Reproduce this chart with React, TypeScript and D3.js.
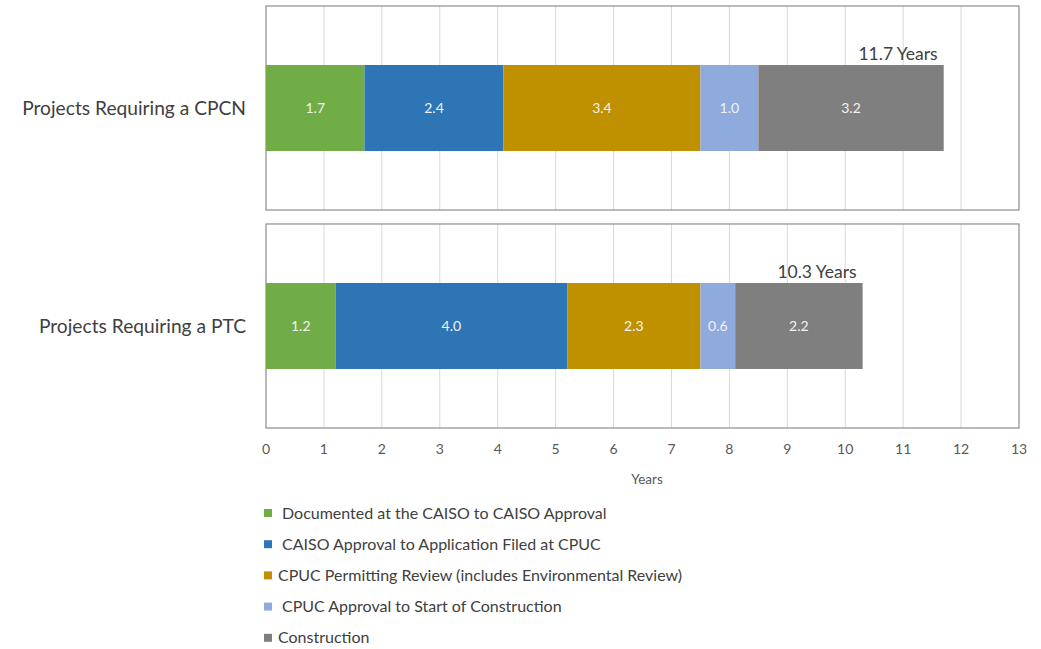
import React from 'react';
import * as d3 from 'd3';

const categories = ['Projects Requiring a CPCN', 'Projects Requiring a PTC'];
const seriesNames = [
  'Documented at the CAISO to CAISO Approval',
  'CAISO Approval to Application Filed at CPUC',
  'CPUC Permitting Review (includes Environmental Review)',
  'CPUC Approval to Start of Construction',
  'Construction',
];
const seriesKeys = ['documented', 'caiso', 'permitting', 'approval', 'construction'];
const documented = [1.7, 1.2];
const caiso = [2.4, 4.0];
const permitting = [3.4, 2.3];
const approval = [1.0, 0.6];
const construction = [3.2, 2.2];
const totals = ['11.7 Years', '10.3 Years'];
const xTicks = [0, 1, 2, 3, 4, 5, 6, 7, 8, 9, 10, 11, 12, 13];
const colors = ['#70AD47', '#2E75B6', '#BF9000', '#8FAADC', '#7F7F7F'];

const W = 1041;
const H = 649;
const FONT = 'Lato, "Open Sans", sans-serif';

export default function App() {
  const rows = categories.map((c, i) => ({
    category: c,
    documented: documented[i],
    caiso: caiso[i],
    permitting: permitting[i],
    approval: approval[i],
    construction: construction[i],
  }));
  const stacked = d3.stack<any>().keys(seriesKeys)(rows);

  const x = d3.scaleLinear().domain([0, 13]).range([266, 1019]);
  const panel = d3.scaleBand<string>().domain(categories).range([6, 428]).paddingInner(0.064);
  const barH = 86;

  return (
    <svg width={W} height={H} style={{ position: 'absolute', left: 0, top: 0, fontFamily: FONT }}>
      <rect width={W} height={H} fill="#fff" />
      {categories.map((c, i) => {
        const y0 = panel(c)!;
        const bh = panel.bandwidth();
        const cy = y0 + bh / 2;
        const total = d3.sum(stacked, (s) => s[i][1] - s[i][0]);
        return (
          <g key={c}>
            {xTicks.slice(1, -1).map((t) => (
              <line key={t} x1={x(t)} x2={x(t)} y1={y0} y2={y0 + bh} stroke="#d9d9d9" strokeWidth={1} />
            ))}
            <rect x={x(0)} y={y0} width={x(13) - x(0)} height={bh} fill="none" stroke="#8c8c8c" strokeWidth={1.2} />
            {stacked.map((s, k) => {
              const d = s[i];
              return (
                <g key={k}>
                  <rect x={x(d[0])} y={cy - barH / 2} width={x(d[1]) - x(d[0])} height={barH} fill={colors[k]} />
                  <text
                    x={(x(d[0]) + x(d[1])) / 2}
                    y={cy}
                    dy="0.35em"
                    textAnchor="middle"
                    fill="#f2f2f2"
                    fontSize={14}
                  >
                    {(d[1] - d[0]).toFixed(1)}
                  </text>
                </g>
              );
            })}
            <text x={x(total) - 6} y={cy - barH / 2 - 5} textAnchor="end" fill="#404040" fontSize={17.5}>
              {totals[i]}
            </text>
            <text x={246} y={cy} dy="0.35em" textAnchor="end" fill="#404040" fontSize={19.2}>
              {c}
            </text>
          </g>
        );
      })}
      {xTicks.map((t) => (
        <text key={t} x={x(t)} y={449} dy="0.35em" textAnchor="middle" fill="#595959" fontSize={14}>
          {t}
        </text>
      ))}
      <text x={647} y={479} dy="0.35em" textAnchor="middle" fill="#595959" fontSize={13.5}>
        Years
      </text>
      {seriesNames.map((n, k) => {
        const ly = 513 + k * 31.2;
        const indent = k === 2 || k === 4 ? 278 : 282;
        return (
          <g key={n}>
            <rect x={264} y={ly - 4} width={8} height={8} fill={colors[k]} />
            <text x={indent} y={ly} dy="0.35em" fill="#404040" fontSize={16}>
              {n}
            </text>
          </g>
        );
      })}
    </svg>
  );
}
